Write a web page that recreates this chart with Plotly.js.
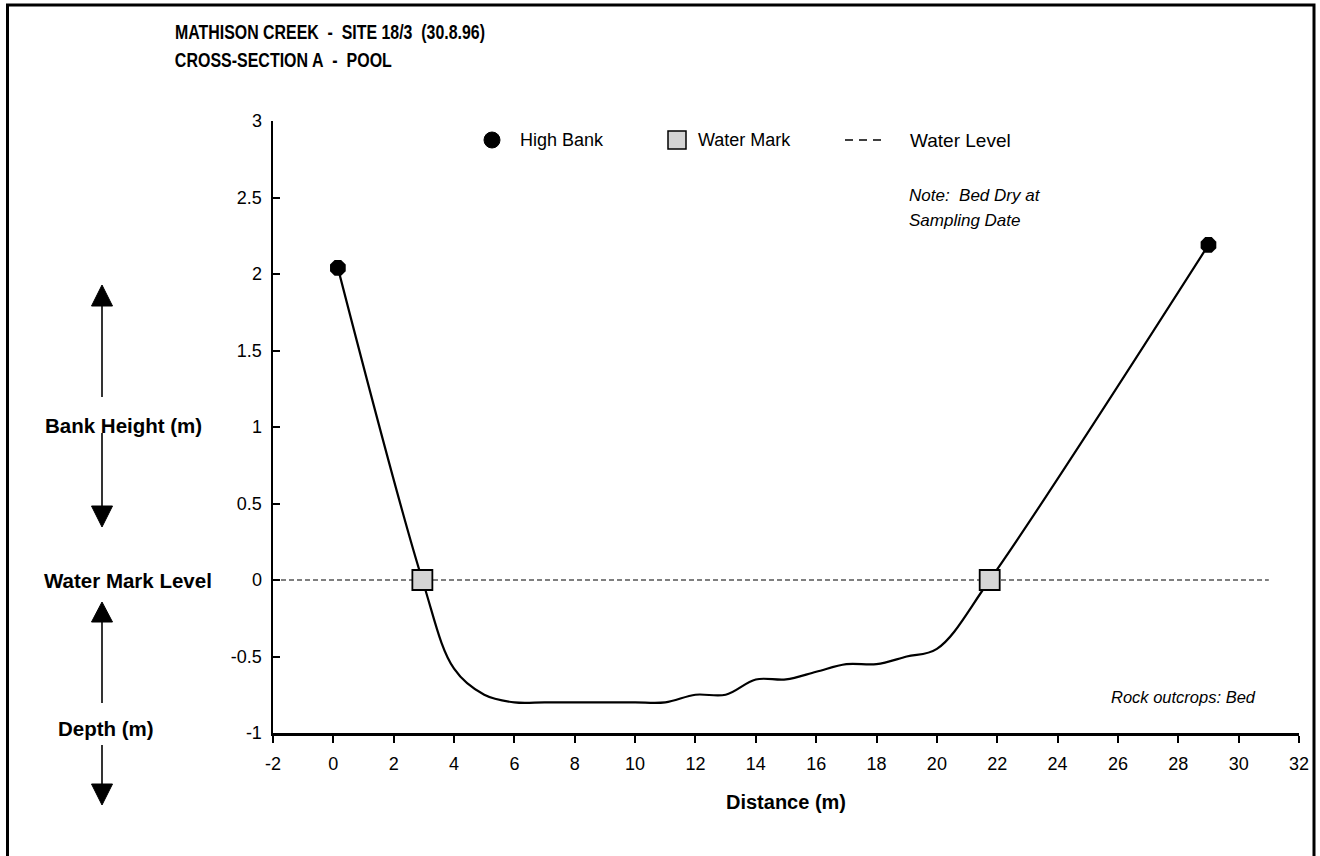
<!DOCTYPE html>
<html>
<head>
<meta charset="utf-8">
<script src="https://cdn.plot.ly/plotly-3.0.1.min.js"></script>
<style>html,body{margin:0;padding:0;background:#fff;}#chart{width:1320px;height:856px;}</style>
</head>
<body>
<div id="chart"></div>
<script>
// ---- data ----
const bedDistance = [0.15, 2.95, 4, 5, 6, 7, 8, 9, 10, 11, 12, 13, 14, 15, 16, 17, 18, 19, 20, 21.75, 29];
const bedLevel    = [2.04, 0, -0.58, -0.75, -0.8, -0.8, -0.8, -0.8, -0.8, -0.8, -0.75, -0.75, -0.65, -0.65, -0.6, -0.55, -0.55, -0.5, -0.45, 0, 2.19];
const highBankX = [0.15, 29];
const highBankY = [2.04, 2.19];
const waterMarkX = [2.95, 21.75];
const waterMarkY = [0, 0];
const waterLevelX = [-2, 31];
const waterLevelY = [0, 0];
const xTickVals = [-2, 0, 2, 4, 6, 8, 10, 12, 14, 16, 18, 20, 22, 24, 26, 28, 30, 32];
const xTickText = ["-2","0","2","4","6","8","10","12","14","16","18","20","22","24","26","28","30","32"];
const yTickVals = [-1, -0.5, 0, 0.5, 1, 1.5, 2, 2.5, 3];
const yTickText = ["-1","-0.5","0","0.5","1","1.5","2","2.5","3"];
const titleLines = ["MATHISON CREEK\u00a0 -\u00a0 SITE 18/3\u00a0 (30.8.96)", "CROSS-SECTION A\u00a0 -\u00a0 POOL"];
const legendNames = ["High Bank", "Water Mark", "Water Level"];

// ---- layout helpers (pixel -> paper) ----
const L = 273, R = 21, T = 121, B = 123, W = 1320, H = 856;
const PW = W - L - R, PH = H - T - B;
const fx = p => (p - L) / PW;
const fy = p => (H - B - p) / PH;

const FONT = '"Liberation Sans", Arial, sans-serif';

const traces = [
  {x: waterLevelX, y: waterLevelY, mode: 'lines', name: legendNames[2], showlegend: false,
   line: {color: '#000', width: 1.2, dash: '5px,3px'}, hoverinfo: 'skip'},
  {x: bedDistance, y: bedLevel, mode: 'lines', name: 'Bed', showlegend: false,
   line: {color: '#000', width: 2.2, shape: 'spline', smoothing: 1}},
  {x: highBankX, y: highBankY, mode: 'markers', name: legendNames[0], showlegend: false,
   marker: {symbol: 'octagon', size: 17, color: '#000', line: {width: 0}}},
  {x: waterMarkX, y: waterMarkY, mode: 'markers', name: legendNames[1], showlegend: false,
   marker: {symbol: 'square', size: 20, color: '#d4d4d4', line: {width: 1.8, color: '#000'}}}
];

function txt(t, px, py, opts) {
  return Object.assign({text: t, xref: 'paper', yref: 'paper', x: fx(px), y: fy(py),
    xanchor: 'center', yanchor: 'middle', showarrow: false,
    font: {family: FONT, size: 18, color: '#000'}}, opts || {});
}

const TITLE_LEFT = 175;
const titleWidths = [310, 217]; // condensed title look

const annotations = [
  txt('<b>' + titleLines[0] + '</b>', TITLE_LEFT + titleWidths[0] / 2, 32, {font: {family: FONT, size: 19.5, color: '#000'}}),
  txt('<b>' + titleLines[1] + '</b>', TITLE_LEFT + titleWidths[1] / 2, 60, {font: {family: FONT, size: 19.5, color: '#000'}}),
  txt('<b>Bank Height (m)</b>', 123, 425, {font: {family: FONT, size: 20.5, color: '#000'}}),
  txt('<b>Water Mark Level</b>', 128, 580, {font: {family: FONT, size: 20.5, color: '#000'}}),
  txt('<b>Depth (m)</b>', 106, 728, {font: {family: FONT, size: 20.5, color: '#000'}}),
  txt(legendNames[0], 518, 140, {xanchor: 'left'}),
  txt(legendNames[1], 696, 140, {xanchor: 'left'}),
  txt(legendNames[2], 908, 140, {xanchor: 'left', font: {family: FONT, size: 19, color: '#000'}}),
  txt('<i>Note:\u00a0 Bed Dry at</i>', 907, 195, {xanchor: 'left', font: {family: FONT, size: 17, color: '#000'}}),
  txt('<i>Sampling Date</i>', 907, 220, {xanchor: 'left', font: {family: FONT, size: 17, color: '#000'}}),
  txt('<i>Rock outcrops: Bed</i>', 1258, 697, {xanchor: 'right', font: {family: FONT, size: 16.5, color: '#000'}})
];

function line(x0, y0, x1, y1, w, dash) {
  return {type: 'line', xref: 'paper', yref: 'paper', x0: fx(x0), y0: fy(y0), x1: fx(x1), y1: fy(y1),
    line: {color: '#000', width: w, dash: dash || 'solid'}};
}
function tri(cx, tipY, baseY, half) {
  const p = `M ${fx(cx)} ${fy(tipY)} L ${fx(cx - half)} ${fy(baseY)} L ${fx(cx + half)} ${fy(baseY)} Z`;
  return {type: 'path', xref: 'paper', yref: 'paper', path: p, fillcolor: '#000', line: {color: '#000', width: 1}};
}

const AX = 102;
const shapes = [
  // outer frame
  {type: 'rect', xref: 'paper', yref: 'paper', x0: fx(7.5), x1: fx(1314), y0: fy(5), y1: fy(880),
   line: {color: '#000', width: 3}, fillcolor: 'rgba(0,0,0,0)'},
  // bank-height arrows
  line(AX, 303, AX, 397, 1.6), tri(AX, 285, 306, 10.5),
  line(AX, 433, AX, 508, 1.6), tri(AX, 527, 506, 10.5),
  // depth arrows
  line(AX, 618, AX, 703, 1.6), tri(AX, 602, 622, 10.5),
  line(AX, 745, AX, 787, 1.6), tri(AX, 805, 784, 10.5),
  // manual legend symbols
  {type: 'circle', xref: 'paper', yref: 'paper', x0: fx(484), x1: fx(500), y0: fy(132), y1: fy(148),
   fillcolor: '#000', line: {color: '#000', width: 1}},
  {type: 'rect', xref: 'paper', yref: 'paper', x0: fx(668), x1: fx(686), y0: fy(131), y1: fy(149),
   fillcolor: '#d4d4d4', line: {color: '#000', width: 1.5}},
  line(845, 140, 881, 140, 1.3, '8px,6px')
];

const layout = {
  width: W, height: H,
  margin: {l: L, r: R, t: T, b: B, pad: 0},
  paper_bgcolor: '#fff', plot_bgcolor: '#fff',
  showlegend: false,
  font: {family: FONT, size: 18, color: '#000'},
  xaxis: {range: [-2, 32], tickvals: xTickVals, ticktext: xTickText,
    showgrid: false, zeroline: false, showline: true, linecolor: '#000', linewidth: 2.5,
    ticks: 'outside', ticklen: 7, tickwidth: 2, tickcolor: '#000', ticklabelstandoff: 6,
    tickfont: {family: FONT, size: 18, color: '#000'},
    title: {text: '<b>Distance (m)</b>', font: {family: FONT, size: 20, color: '#000'}, standoff: 22}},
  yaxis: {range: [-1, 3], tickvals: yTickVals, ticktext: yTickText,
    showgrid: false, zeroline: false, showline: true, linecolor: '#000', linewidth: 2.5,
    ticks: 'inside', ticklen: 7, tickwidth: 2, tickcolor: '#000', ticklabelstandoff: 5,
    tickfont: {family: FONT, size: 18, color: '#000'}},
  annotations: annotations,
  shapes: shapes
};

Plotly.newPlot('chart', traces, layout, {staticPlot: true, displayModeBar: false}).then(gd => {
  const texts = gd.querySelectorAll('.annotation .annotation-text');
  titleWidths.forEach((w, i) => {
    const t = texts[i];
    if (t) {
      t.setAttribute('textLength', w);
      t.setAttribute('lengthAdjust', 'spacingAndGlyphs');
    }
  });
});
</script>
</body>
</html>
